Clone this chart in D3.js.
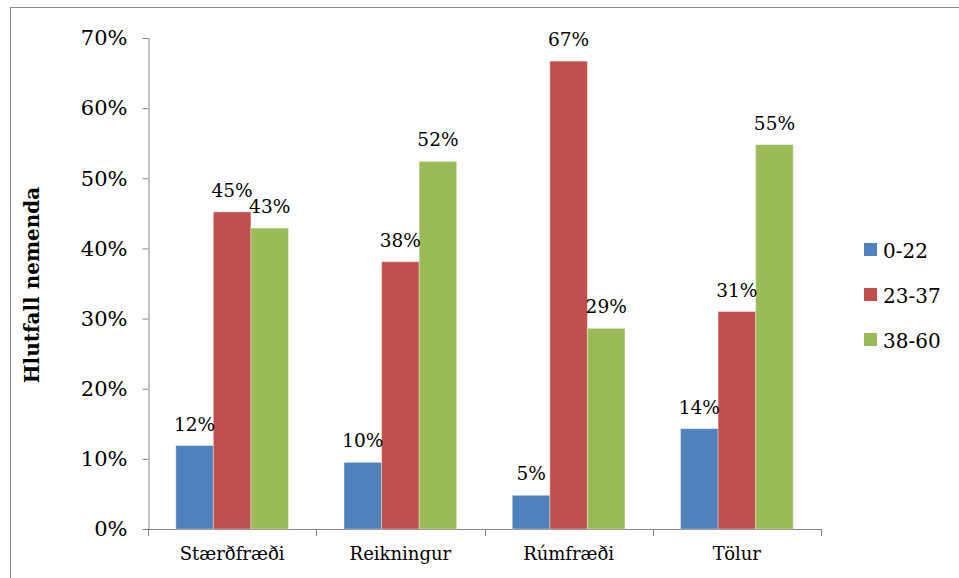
<!DOCTYPE html>
<html>
<head>
<meta charset="utf-8">
<script src="https://cdn.jsdelivr.net/npm/d3@7"></script>
<style>
  body { margin: 0; background: #fff; }
  text { font-family: "DejaVu Serif", serif; fill: #000; }
</style>
</head>
<body>
<div id="chart"></div>
<script>

var WIDTH = 959;
var HEIGHT = 578;

// data
var categories = ["Stærðfræði", "Reikningur", "Rúmfræði", "Tölur"];
var seriesNames = ["0-22", "23-37", "38-60"];
var seriesColors = ["#4F81BD", "#C0504D", "#9BBB59"];
var vals_0_22 = [0.119, 0.095, 0.048, 0.143];
var vals_23_37 = [0.452, 0.381, 0.667, 0.310];
var vals_38_60 = [0.429, 0.524, 0.286, 0.548];
var yTicks = [0, 0.1, 0.2, 0.3, 0.4, 0.5, 0.6, 0.7];

var series = [vals_0_22, vals_23_37, vals_38_60];

var rows = categories.map(function (c, i) {
    return { cat: c, values: series.map(function (s, k) { return { key: seriesNames[k], k: k, v: s[i] } }) };
});

var svg = d3.select("#chart").append("svg")
    .attr("width", WIDTH)
    .attr("height", HEIGHT);

// outer chart frame
svg.append("rect")
    .attr("x", 10.5).attr("y", 7.5)
    .attr("width", 970).attr("height", 600)
    .attr("fill", "none")
    .attr("stroke", "#8c8c8c")
    .attr("stroke-width", 1);

var x0 = d3.scaleBand()
    .domain(categories)
    .range([148, 821])
    .paddingInner(0).paddingOuter(0);

var x1 = d3.scaleBand()
    .domain(seriesNames)
    .range([0, x0.bandwidth()])
    .paddingOuter(0.74).paddingInner(0);

var y = d3.scaleLinear()
    .domain([0, 0.7])
    .range([529, 38]);

var pct = d3.format(".0%");

// y axis
var yAxis = svg.append("g")
    .attr("transform", "translate(148.5,0)")
    .call(d3.axisLeft(y).tickValues(yTicks).tickFormat(pct).tickSize(6).tickPadding(15));

yAxis.select(".domain").attr("stroke", "#868686");
yAxis.selectAll(".tick line").attr("stroke", "#868686");
yAxis.selectAll(".tick text")
    .style("font-family", "DejaVu Serif, serif")
    .style("font-size", "21px")
    .attr("fill", "#000");

// x axis
var xAxis = svg.append("g")
    .attr("transform", "translate(0,529.5)")
    .call(d3.axisBottom(x0).tickSize(0).tickPadding(18));

xAxis.select(".domain").attr("stroke", "#868686").attr("d", "M148,0H821");
xAxis.selectAll(".tick text")
    .style("font-family", "DejaVu Serif, serif")
    .style("font-size", "18px")
    .attr("fill", "#000");

// category separators on x axis
svg.append("g")
    .selectAll("line")
    .data(categories.concat(["end"]))
    .enter()
    .append("line")
    .attr("x1", function (d, i) { return Math.round(148 + i * x0.bandwidth()) + 0.5 })
    .attr("x2", function (d, i) { return Math.round(148 + i * x0.bandwidth()) + 0.5 })
    .attr("y1", 529)
    .attr("y2", 536)
    .attr("stroke", "#868686");

// bars
var groups = svg.append("g")
    .selectAll("g")
    .data(rows)
    .enter()
    .append("g")
    .attr("transform", function (d) { return "translate(" + x0(d.cat) + ",0)" });

groups.selectAll("rect")
    .data(function (d) { return d.values })
    .enter()
    .append("rect")
    .attr("x", function (d) { return x1(d.key) })
    .attr("y", function (d) { return y(d.v) })
    .attr("width", x1.bandwidth())
    .attr("height", function (d) { return y(0) - y(d.v) })
    .attr("fill", function (d) { return seriesColors[d.k] })
    .attr("stroke", "rgba(255,255,255,0.35)")
    .attr("stroke-width", 1);

groups.selectAll("text")
    .data(function (d) { return d.values })
    .enter()
    .append("text")
    .attr("x", function (d) { return x1(d.key) + x1.bandwidth() / 2 })
    .attr("y", function (d) { return y(d.v) - 15 })
    .attr("text-anchor", "middle")
    .style("font-size", "18.5px")
    .text(function (d) { return pct(d.v) });

// y axis title
svg.append("text")
    .attr("transform", "translate(39,285) rotate(-90)")
    .attr("text-anchor", "middle")
    .style("font-size", "20px")
    .style("font-weight", "bold")
    .text("Hlutfall nemenda");

// legend
var legend = svg.append("g")
    .selectAll("g")
    .data(seriesNames)
    .enter()
    .append("g")
    .attr("transform", function (d, i) { return "translate(864," + (250 + i * 45) + ")" });

legend.append("rect")
    .attr("x", 0).attr("y", -7)
    .attr("width", 13).attr("height", 13)
    .attr("fill", function (d, i) { return seriesColors[i] });

legend.append("text")
    .attr("x", 19)
    .attr("y", 7.5)
    .style("font-size", "20px")
    .text(function (d) { return d });

</script>
</body>
</html>
